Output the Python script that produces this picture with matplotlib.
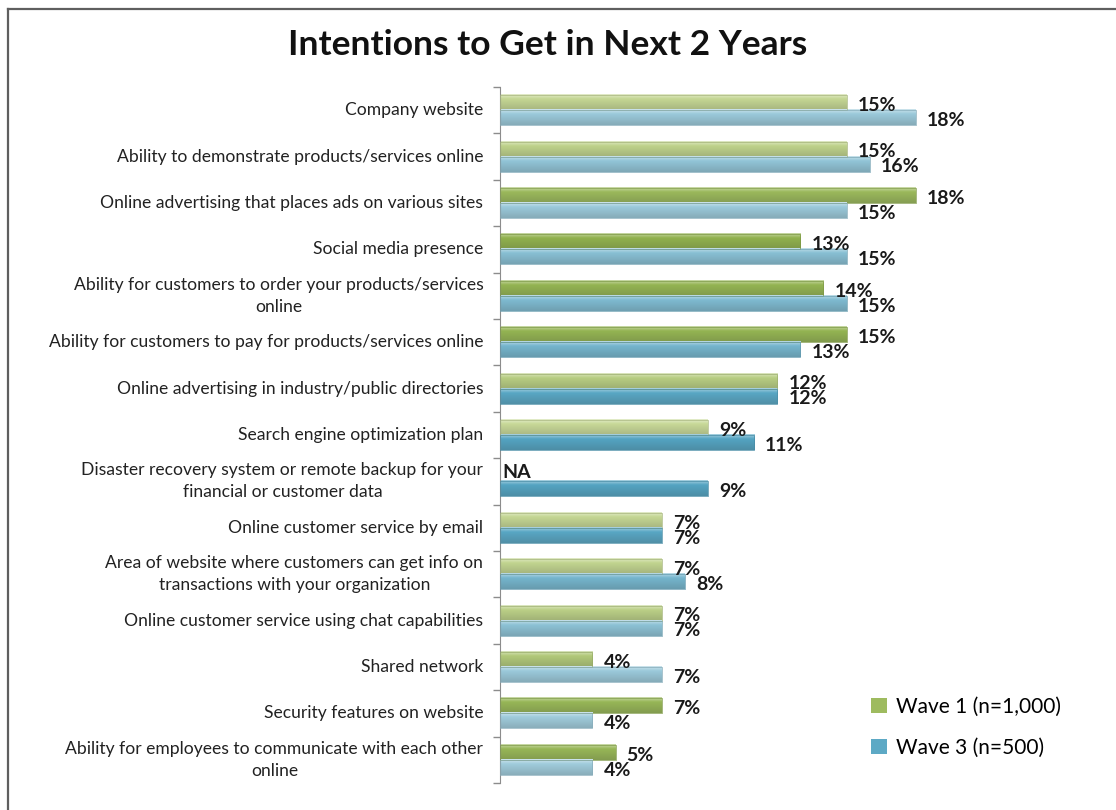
import numpy as np
import matplotlib
matplotlib.use("Agg")
import matplotlib.pyplot as plt
from matplotlib.colors import to_rgb
from matplotlib.patches import Patch
from matplotlib.lines import Line2D

plt.rcParams["font.family"] = ["Lato", "DejaVu Sans"]

# ---- data -------------------------------------------------------------
categories = [
    "Company website",
    "Ability to demonstrate products/services online",
    "Online advertising that places ads on various sites",
    "Social media presence",
    "Ability for customers to order your products/services\nonline",
    "Ability for customers to pay for products/services online",
    "Online advertising in industry/public directories",
    "Search engine optimization plan",
    "Disaster recovery system or remote backup for your\nfinancial or customer data",
    "Online customer service by email",
    "Area of website where customers can get info on\ntransactions with your organization",
    "Online customer service using chat capabilities",
    "Shared network",
    "Security features on website",
    "Ability for employees to communicate with each other\nonline",
]
wave1 = [15, 15, 18, 13, 14, 15, 12, 9, np.nan, 7, 7, 7, 4, 7, 5]
wave3 = [18, 16, 15, 15, 15, 13, 12, 11, 9, 7, 8, 7, 7, 4, 4]
series_labels = ["Wave 1 (n=1,000)", "Wave 3 (n=500)"]
title = "Intentions to Get in Next 2 Years"

# ---- styling ----------------------------------------------------------
green_light, green_dark = np.array(to_rgb("#cbdb9c")), np.array(to_rgb("#8aad45"))
blue_light, blue_dark = np.array(to_rgb("#a9d1df")), np.array(to_rgb("#4a9fbf"))
# per-bar tone (0 = pale, 1 = saturated) for the glossy fills
green_tone = [0.1, 0.2, 0.75, 0.9, 0.85, 0.85, 0.3, 0.05, 0.0, 0.1, 0.15, 0.25, 0.4, 0.8, 0.8]
blue_tone = [0.15, 0.25, 0.15, 0.35, 0.45, 0.55, 0.85, 0.9, 0.9, 0.85, 0.55, 0.3, 0.15, 0.1, 0.1]

W, H = 1116, 810
fig = plt.figure(figsize=(W / 100, H / 100), dpi=100)
ax = fig.add_axes([500 / W, 27 / H, 600 / W, 696 / H])

n = len(categories)
y = np.arange(n)
bh = 0.325
off = 0.162


def gradient(light, dark, tone, steps=64):
    base = (1 - tone) * light + tone * dark
    top = base + (1 - base) * 0.5
    bottom = base * 0.8 + 0.04
    t = np.linspace(0, 1, steps)
    cols = np.stack([np.interp(t, [0, 0.3, 1], [top[c], base[c], bottom[c]])
                     for c in range(3)], axis=1)
    return np.clip(cols, 0, 1)[:, None, :], base


def glossy_bars(values, ypos, light, dark, tones):
    bars = ax.barh(ypos, np.nan_to_num(values), height=bh, color="none",
                   edgecolor="none", zorder=3)
    for patch, v, tone in zip(bars, values, tones):
        if np.isnan(v):
            continue
        img, base = gradient(light, dark, tone)
        x0, y0 = patch.get_x(), patch.get_y()
        w, h = patch.get_width(), patch.get_height()
        ax.imshow(img, extent=(x0, x0 + w, y0 + h, y0), origin="upper",
                  aspect="auto", interpolation="bilinear", zorder=2)
        patch.set_edgecolor(tuple(base * 0.85))
        patch.set_linewidth(0.5)
    return bars


glossy_bars(np.array(wave1, float), y - off, green_light, green_dark, green_tone)
glossy_bars(np.array(wave3, float), y + off, blue_light, blue_dark, blue_tone)

ax.set_xlim(0, 600 / 23.1)
ax.set_ylim(n - 0.5, -0.5)
ax.set_aspect("auto")

# value labels
for vals, sign in ((wave1, -1), (wave3, 1)):
    for yi, v in zip(y, vals):
        yc = yi + sign * off
        if np.isnan(v):
            ax.annotate("NA", xy=(0, yc), xytext=(2, 1), textcoords="offset points",
                        ha="left", va="center", fontsize=14, fontweight="bold",
                        color="#1a1a1a")
        else:
            ax.annotate(f"{v:g}%", xy=(v, yc), xytext=(8, -2), textcoords="offset points",
                        ha="left", va="center", fontsize=14, fontweight="bold",
                        color="#1a1a1a")

# category labels
for yi, lab in zip(y, categories):
    ax.annotate(lab, xy=(0, yi), xycoords=("axes fraction", "data"),
                xytext=(-12, 0), textcoords="offset points", ha="right",
                va="center", multialignment="center", fontsize=12.6,
                color="#222222", linespacing=1.45)

# axes decoration
ax.set_yticks(np.arange(n + 1) - 0.5)
ax.tick_params(axis="y", labelleft=False, direction="out", length=5,
               color="#8c8c8c", width=1)
ax.set_xticks([])
for side in ("top", "right", "bottom"):
    ax.spines[side].set_visible(False)
ax.spines["left"].set_color("#8c8c8c")
ax.patch.set_alpha(0)

# legend
handles = [Patch(facecolor=gradient(green_light, green_dark, 0.7)[1]),
           Patch(facecolor=gradient(blue_light, blue_dark, 0.8)[1])]
ax.legend(handles, series_labels, loc="upper left",
          bbox_to_anchor=(871 / W, 1 - 697 / H), bbox_transform=fig.transFigure,
          frameon=False, fontsize=15, handlelength=0.75, handleheight=0.75,
          handletextpad=0.45, labelspacing=1.0, borderpad=0, borderaxespad=0)

# title
fig.text(548 / W, 1 - 45 / H, title, ha="center", va="center",
         fontsize=25.5, fontweight="bold", color="#111111")

# surrounding frame
fig.add_artist(Line2D([8 / W, 1], [1 - 9 / H, 1 - 9 / H], transform=fig.transFigure,
                      color="#5f5f5f", lw=1.6))
fig.add_artist(Line2D([8 / W, 8 / W], [0, 1 - 9 / H], transform=fig.transFigure,
                      color="#5f5f5f", lw=1.6))

fig.savefig("out.png", dpi=100, facecolor="white")
